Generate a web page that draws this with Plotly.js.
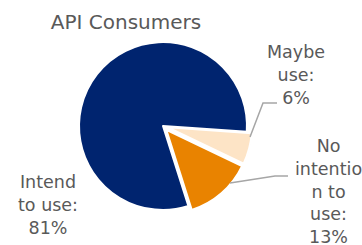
<!DOCTYPE html>
<html><head><meta charset="utf-8">
<script src="https://cdn.plot.ly/plotly-3.0.1.min.js"></script>
<style>html,body{margin:0;padding:0;background:#fff}#chart{width:362px;height:245px}</style>
</head><body><div id="chart"></div>
<script>
var categories = ["Maybe use", "No intention to use", "Intend to use"];
var values = [6, 13, 81];
var labelTexts = ["Maybe<br>use:<br>6%", "No<br>intentio<br>n to<br>use:<br>13%", "Intend<br>to use:<br>81%"];
var colors = ["#FDE4C6", "#E98300", "#00246F"];

var W = 362, H = 245;
var cx = 163, cy = 126, r = 84, pullMax = 0.06;
var half = r * (1 + pullMax);
function px(x){return x / W;}
function py(y){return 1 - y / H;}

var trace = {
  type: "pie",
  labels: categories,
  values: values,
  sort: false,
  direction: "clockwise",
  rotation: 94,
  pull: [0.06, 0.06, 0],
  marker: {colors: colors, line: {color: "#ffffff", width: 2}},
  textinfo: "none",
  hoverinfo: "label+percent",
  domain: {x: [px(cx - half), px(cx + half)], y: [py(cy + half), py(cy - half)]},
  showlegend: false
};

var labelPos = [[296, 75], [328, 191], [48, 205]];
var annotations = labelTexts.map(function(t, i){
  return {text: t, x: px(labelPos[i][0]), y: py(labelPos[i][1]), xref: "paper", yref: "paper",
    xanchor: "center", yanchor: "middle", showarrow: false,
    font: {family: "DejaVu Sans, Verdana, sans-serif", size: 17.5, color: "#595959"}};
});

function path(pts){
  return pts.map(function(p, i){return (i ? "L" : "M") + px(p[0]) + "," + py(p[1]);}).join(" ");
}
var shapes = [
  {type: "path", xref: "paper", yref: "paper", path: path([[250, 137], [263, 103], [277, 103]]), line: {color: "#A6A6A6", width: 1.5}},
  {type: "path", xref: "paper", yref: "paper", path: path([[230, 183], [275, 176], [288, 176]]), line: {color: "#A6A6A6", width: 1.5}}
];

var layout = {
  width: W, height: H,
  margin: {l: 0, r: 0, t: 0, b: 0},
  paper_bgcolor: "#ffffff",
  title: {text: "API Consumers", x: px(126), y: py(22), xanchor: "center", yanchor: "middle",
    xref: "paper", yref: "paper",
    font: {family: "DejaVu Sans, Verdana, sans-serif", size: 20, color: "#595959"}},
  annotations: annotations,
  shapes: shapes
};

Plotly.newPlot("chart", [trace], layout, {displayModeBar: false, staticPlot: true});
</script></body></html>
